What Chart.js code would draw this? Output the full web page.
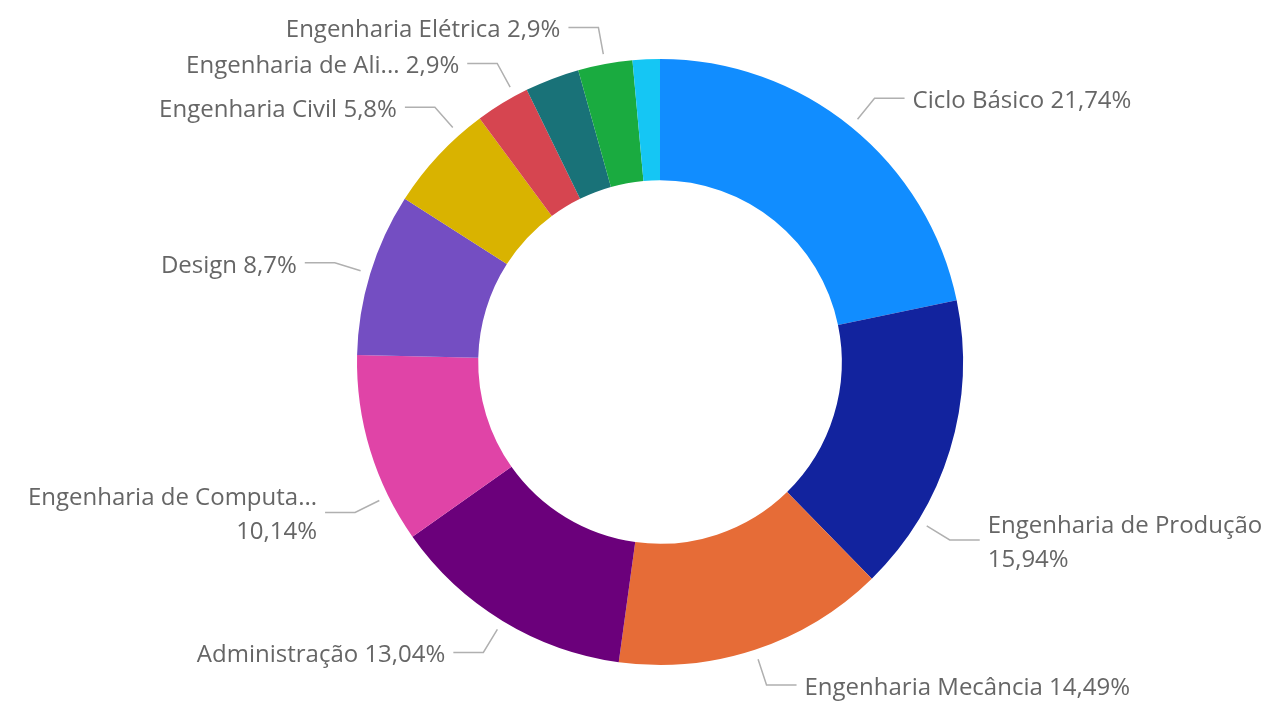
<!DOCTYPE html>
<html>
<head>
<meta charset="utf-8">
<script src="https://cdn.jsdelivr.net/npm/chart.js@4"></script>
<style>
  html, body { margin: 0; padding: 0; background: #fff; }
  #wrap { width: 1262px; height: 704px; }
</style>
</head>
<body>
<div id="wrap"><canvas id="graficoCursos" width="1262" height="704"></canvas></div>
<script>
// Dados (alunos por curso) - null = rótulo não exibido no gráfico
const cursos = [
    "Ciclo Básico", "Engenharia de Produção", "Engenharia Mecância", "Administração",
    "Engenharia de Computa...", "Design", "Engenharia Civil", "Engenharia de Ali...",
    null, "Engenharia Elétrica", null
];
const alunos = [15, 11, 10, 9, 7, 6, 4, 2, 2, 2, 1];
const cores = [
    "#118DFF", "#12239E", "#E66C37", "#6B007B", "#E044A7", "#744EC2",
    "#D9B300", "#D64550", "#197278", "#1AAB40", "#15C6F4"
];
// deslocamento (graus) do rótulo em relação ao meio da fatia, para evitar colisões
const desvioRotulo = [0, 14.6, 0, 0, -9.3, 0, 5.5, 2.7, 0, 0, 0];

const total = alunos.reduce((a, b) => a + b, 0);
function pct(v) {
    let s = (Math.round(v / total * 10000) / 100).toFixed(2);
    s = s.replace(/0+$/, "").replace(/\.$/, "");
    return s.replace(".", ",") + "%";
}

const FONTE = '24px "Open Sans", sans-serif';

const rotulos = {
    id: "rotulos",
    afterDraw(chart) {
        const ctx = chart.ctx;
        const meta = chart.getDatasetMeta(0);
        ctx.save();
        ctx.font = FONTE;
        meta.data.forEach((arc, i) => {
            if (!cursos[i]) return;
            const p = arc.getProps(["x", "y", "startAngle", "endAngle", "outerRadius"], true);
            const ang = (p.startAngle + p.endAngle) / 2 + desvioRotulo[i] * Math.PI / 180;
            const c = Math.cos(ang), s = Math.sin(ang);
            const x0 = p.x + (p.outerRadius + 10) * c, y0 = p.y + (p.outerRadius + 10) * s;
            const x1 = p.x + (p.outerRadius + 37) * c, y1 = p.y + (p.outerRadius + 37) * s;
            const dir = c >= 0 ? 1 : -1;
            const x2 = x1 + dir * 30;

            ctx.strokeStyle = "#b0b0b0";
            ctx.lineWidth = 1.5;
            ctx.beginPath();
            ctx.moveTo(x0, y0);
            ctx.lineTo(x1, y1);
            ctx.lineTo(x2, y1);
            ctx.stroke();

            const tx = x2 + dir * 8;
            const texto = cursos[i] + " " + pct(alunos[i]);
            const largura = ctx.measureText(texto).width;
            const cabe = dir > 0 ? tx + largura <= chart.width - 2 : tx - largura >= 2;
            ctx.fillStyle = "#666666";
            ctx.textAlign = dir > 0 ? "left" : "right";
            ctx.textBaseline = "middle";
            if (cabe) {
                ctx.fillText(texto, tx, y1 + 3);
            } else {
                ctx.fillText(cursos[i], tx, y1 + 3 - 17);
                ctx.fillText(pct(alunos[i]), tx, y1 + 3 + 17);
            }
        });
        ctx.restore();
    }
};

const ctx = document.getElementById("graficoCursos").getContext("2d");
new Chart(ctx, {
    type: "doughnut",
    data: {
        labels: cursos.map((c, i) => c || ("Curso " + (i + 1))),
        datasets: [{
            data: alunos,
            backgroundColor: cores,
            borderWidth: 0
        }]
    },
    options: {
        responsive: false,
        animation: false,
        cutout: "60%",
        layout: { padding: { left: 357, right: 299, top: 59, bottom: 39 } },
        plugins: {
            legend: { display: false },
            tooltip: { enabled: false }
        }
    },
    plugins: [rotulos]
});
</script>
</body>
</html>
